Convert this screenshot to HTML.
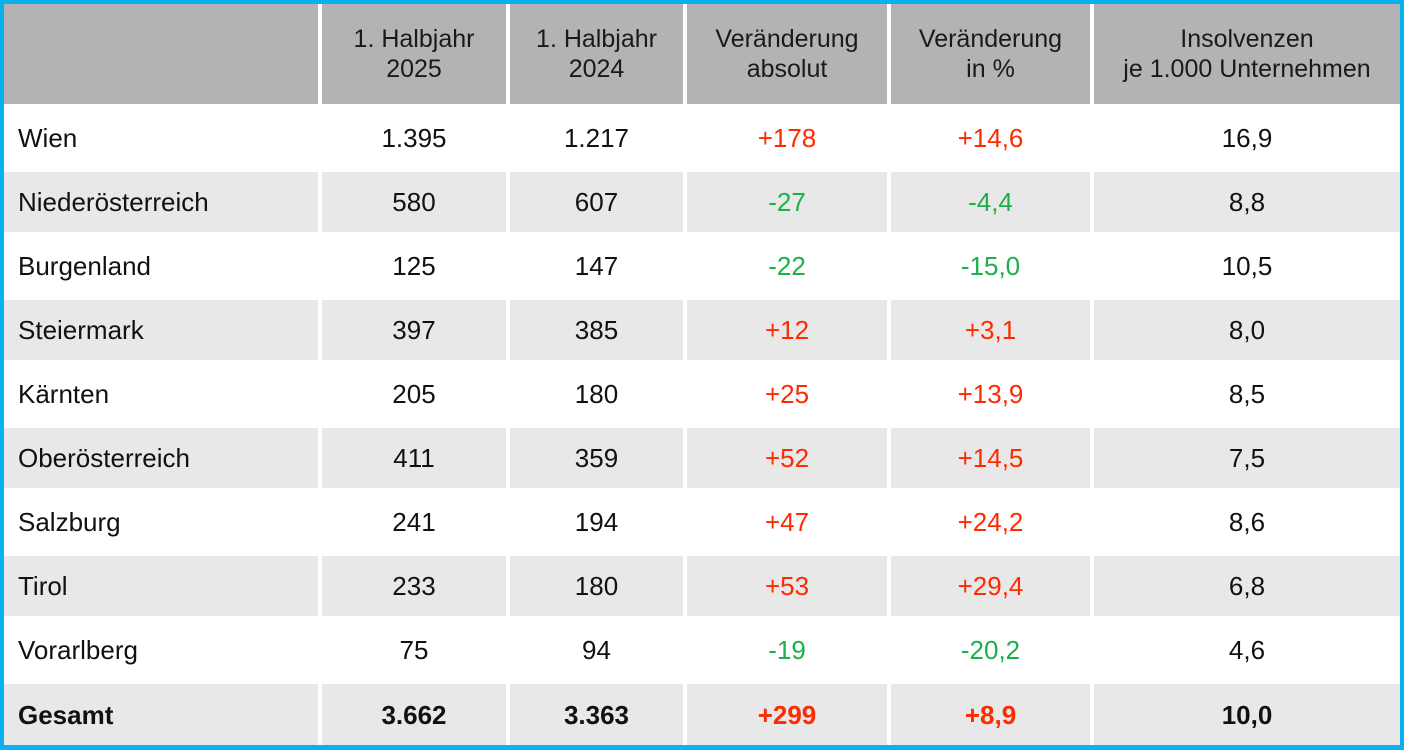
<!DOCTYPE html>
<html><head><meta charset="utf-8"><style>
body{margin:0;width:1404px;height:750px;background:#0bb0ef;position:relative;overflow:hidden;font-family:"Liberation Sans",sans-serif;color:#111}
.c{position:absolute;display:flex;align-items:center;justify-content:center;text-align:center;font-size:26px;line-height:30px;box-sizing:border-box}
.h{background:#b3b3b3;color:#1a1a1a;font-size:25px}
.g{background:#e8e8e8}.w{background:#fff}
.l{justify-content:flex-start;padding-left:14px}
.r{color:#ff2a00}.gr{color:#1bb04a}.b{font-weight:bold}
#tbl{position:absolute;left:4px;top:4px;width:1396px;height:741px;background:#fff}
</style></head><body>
<div id="tbl"></div>
<script>
const cols=[[4,318],[322,506],[510,683],[687,887],[891,1090],[1094,1400]];
const headers=["","1. Halbjahr<br>2025","1. Halbjahr<br>2024","Veränderung<br>absolut","Veränderung<br>in %","Insolvenzen<br>je 1.000 Unternehmen"];
const regions=["Wien","Niederösterreich","Burgenland","Steiermark","Kärnten","Oberösterreich","Salzburg","Tirol","Vorarlberg","Gesamt"];
const h2025=["1.395","580","125","397","205","411","241","233","75","3.662"];
const h2024=["1.217","607","147","385","180","359","194","180","94","3.363"];
const absChg=["+178","-27","-22","+12","+25","+52","+47","+53","-19","+299"];
const pctChg=["+14,6","-4,4","-15,0","+3,1","+13,9","+14,5","+24,2","+29,4","-20,2","+8,9"];
const perK=["16,9","8,8","10,5","8,0","8,5","7,5","8,6","6,8","4,6","10,0"];
function cell(x0,x1,y0,y1,html,cls,name){
  const d=document.createElement('div');
  d.className='c '+cls;
  d.style.left=x0+'px';d.style.width=(x1-x0)+'px';d.style.top=y0+'px';d.style.height=(y1-y0)+'px';
  d.innerHTML=html;
  
  
  document.body.appendChild(d);
}
headers.forEach((t,i)=>cell(cols[i][0],cols[i][1],4,104,t,'h','header-cell'));
regions.forEach((r,j)=>{
  const y0=104+j*64;
  const gray=j%2===1;
  let ya,yb;
  if(gray){ya=y0+4;yb=(j===9)?745:y0+64;}else{ya=y0;yb=y0+68;}
  const bg=gray?'g':'w', bold=j===9?' b':'';
  const vals=[r,h2025[j],h2024[j],absChg[j],pctChg[j],perK[j]];
  vals.forEach((v,i)=>{
    let cls=bg+bold;
    if(i===0)cls+=' l';
    if(i===3||i===4)cls+=v.startsWith('+')?' r':' gr';
    cell(cols[i][0],cols[i][1],ya,yb,v,cls,i===0?'region-label':'table-cell');
  });
});
</script>
</body></html>
